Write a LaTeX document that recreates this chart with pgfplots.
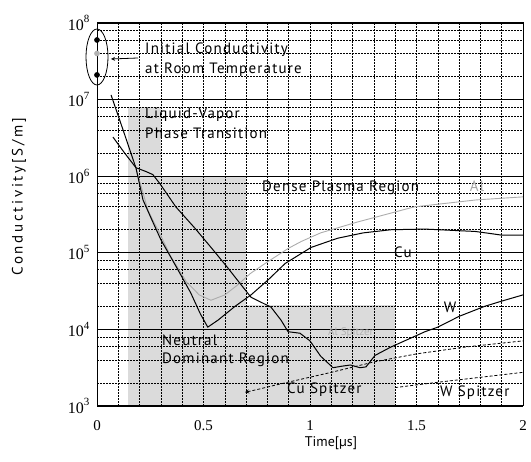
\documentclass[border=0pt]{standalone}
\usepackage{fontspec}
\setmainfont{PT Sans}
\newfontfamily\tickfont{Liberation Serif}
\usepackage{pgfplots}
\pgfplotsset{compat=1.18}
\begin{document}
\begin{tikzpicture}
\begin{axis}[
  set layers,
  at={(97pt,56pt)}, anchor=south west,
  scale only axis, width=426pt, height=383pt,
  xmin=0, xmax=2, ymode=log, ymin=1e3, ymax=1e8,
  clip=false,
  axis line style={line width=1pt},
  xtick={0,0.5,1,1.5,2},
  xticklabels={0,0.5,1,1.5,2},
  ytick={1e3,1e4,1e5,1e6,1e7,1e8},
  yticklabels={10\raisebox{0.45em}{\fontsize{11}{11}\selectfont 3},10\raisebox{0.45em}{\fontsize{11}{11}\selectfont 4},10\raisebox{0.45em}{\fontsize{11}{11}\selectfont 5},10\raisebox{0.45em}{\fontsize{11}{11}\selectfont 6},10\raisebox{0.45em}{\fontsize{11}{11}\selectfont 7},10\raisebox{0.45em}{\fontsize{11}{11}\selectfont 8}},
  minor xtick={0.1,0.2,0.3,0.4,0.5,0.6,0.7,0.8,0.9,1.0,1.1,1.2,1.3,1.4,1.5,1.6,1.7,1.8,1.9},
  minor ytick={2e3,4e3,6e3,8e3,2e4,4e4,6e4,8e4,2e5,4e5,6e5,8e5,2e6,4e6,6e6,8e6,2e7,4e7,6e7,8e7},
  xminorgrids=true, ymajorgrids=true, yminorgrids=true,
  major grid style={black, line width=0.6pt},
  minor grid style={black, line width=0.6pt, dash pattern=on 1.6pt off 1.4pt},
  major tick length=0pt, minor tick length=0pt,
  xticklabel style={font=\tickfont\fontsize{15}{15}\selectfont, yshift=-11pt},
  yticklabel style={font=\tickfont\fontsize{16}{16}\selectfont, xshift=-4pt},
]
\begin{pgfonlayer}{axis background}
\fill[gray!28] (axis cs:0.145,1e6) rectangle (axis cs:0.30,8e6);
\fill[gray!28] (axis cs:0.145,1e3) rectangle (axis cs:0.70,1e6);
\fill[gray!28] (axis cs:0.70,1e3) rectangle (axis cs:1.40,2.1e4);
\end{pgfonlayer}
% Al
\addplot[gray!65, line width=0.9pt] coordinates {
(0.183,1.26e6) (0.24,3.55e5) (0.30,1.66e5) (0.347,8.9e4) (0.42,4.17e4) (0.48,2.82e4)
(0.535,2.4e4) (0.6,2.82e4) (0.66,3.8e4) (0.72,5.37e4) (0.8,7.59e4) (0.9,1.15e5)
(0.96,1.41e5) (1.05,1.82e5) (1.22,2.51e5) (1.49,3.98e5) (1.78,4.9e5) (2.0,5.37e5)};
% Cu
\addplot[black, line width=1pt, line join=round] coordinates {
(0.066,1.15e7) (0.12,4.2e6) (0.183,1.28e6) (0.216,4.9e5) (0.26,2.6e5) (0.30,1.48e5)
(0.38,6.0e4) (0.44,3.0e4) (0.485,1.6e4) (0.52,1.07e4) (0.568,1.32e4) (0.648,2.0e4)
(0.723,2.82e4) (0.803,4.42e4) (0.883,7.24e4) (1.005,1.175e5) (1.13,1.55e5) (1.25,1.82e5)
(1.38,2.0e5) (1.54,2.04e5) (1.775,1.9e5) (1.85,1.78e5) (1.9,1.70e5) (2.0,1.70e5)};
% W
\addplot[black, line width=1pt, line join=round] coordinates {
(0.075,3.24e6) (0.13,2.0e6) (0.183,1.29e6) (0.23,1.15e6) (0.262,1.05e6) (0.296,7.94e5)
(0.37,3.98e5) (0.46,2.09e5) (0.55,1.05e5) (0.615,6.31e4) (0.66,4.37e4) (0.723,2.63e4)
(0.817,1.95e4) (0.864,1.32e4) (0.897,9.33e3) (0.953,8.91e3) (1.0,7.08e3) (1.05,4.47e3)
(1.108,3.16e3) (1.15,3.31e3) (1.19,3.43e3) (1.235,3.16e3) (1.263,3.24e3) (1.305,4.57e3)
(1.38,5.89e3) (1.46,7.41e3) (1.54,9.33e3) (1.6,1.07e4) (1.7,1.48e4) (1.82,2.0e4)
(1.9,2.34e4) (2.0,2.82e4)};
% Cu Spitzer
\addplot[black, line width=0.8pt, dash pattern=on 3pt off 2pt, <-, >=stealth] coordinates {
(0.695,1.51e3) (0.76,1.66e3) (0.85,1.91e3) (0.944,2.19e3) (1.1,2.75e3) (1.3,3.76e3)
(1.5,4.79e3) (1.73,5.89e3) (2.0,7.08e3)};
% W Spitzer
\addplot[black, line width=0.8pt, dash pattern=on 3pt off 2pt] coordinates {
(1.4,1.74e3) (1.6,2.04e3) (1.8,2.37e3) (2.0,2.75e3)};
% initial conductivities
\addplot[only marks, mark=*, mark size=2.6pt, black] coordinates {(0,6e7) (0,2.1e7)};
\addplot[only marks, mark=*, mark size=2.6pt, gray!60] coordinates {(0,4e7)};
\end{axis}
\draw[line width=0.8pt] (97pt,405pt) ellipse [x radius=11pt, y radius=28pt];
\draw[line width=0.8pt, ->, >=stealth] (138pt,404pt) -- (111pt,403pt);
\begin{scope}[every node/.style={inner sep=0pt, font=\fontsize{15}{17}\selectfont\addfontfeature{LetterSpace=8}}]
\node[anchor=west] at (145pt,412pt) {Initial Conductivity};
\node[anchor=west] at (145pt,392pt) {at Room Temperature};
\node[anchor=west] at (145pt,347pt) {Liquid-Vapor};
\node[anchor=west] at (145pt,329pt) {Phase Transition};
\node[anchor=west] at (262pt,274pt) {Dense Plasma Region};
\node[text=gray!70] at (477pt,276pt) {Al};
\node at (403pt,210pt) {Cu};
\node at (450pt,155pt) {W};
\node[anchor=west] at (162pt,122pt) {Neutral};
\node[anchor=west] at (162pt,102pt) {Dominant Region};
\node[anchor=west] at (287pt,72pt) {Cu Spitzer};
\node[anchor=west] at (440pt,69pt) {W Spitzer};
\node[anchor=west, text=gray!60, font=\fontsize{11}{12}\selectfont] at (328pt,129pt) {Al Spitzer};
\node[font=\fontsize{14}{16}\selectfont] at (331pt,19pt) {Time[µs]};
\node[rotate=90, font=\fontsize{15}{17}\selectfont\addfontfeature{LetterSpace=18}] at (19pt,265pt) {Conductivity[S/m]};
\end{scope}
\pgfresetboundingbox
\useasboundingbox (0,0) rectangle (531pt,462pt);
\end{tikzpicture}
\end{document}
